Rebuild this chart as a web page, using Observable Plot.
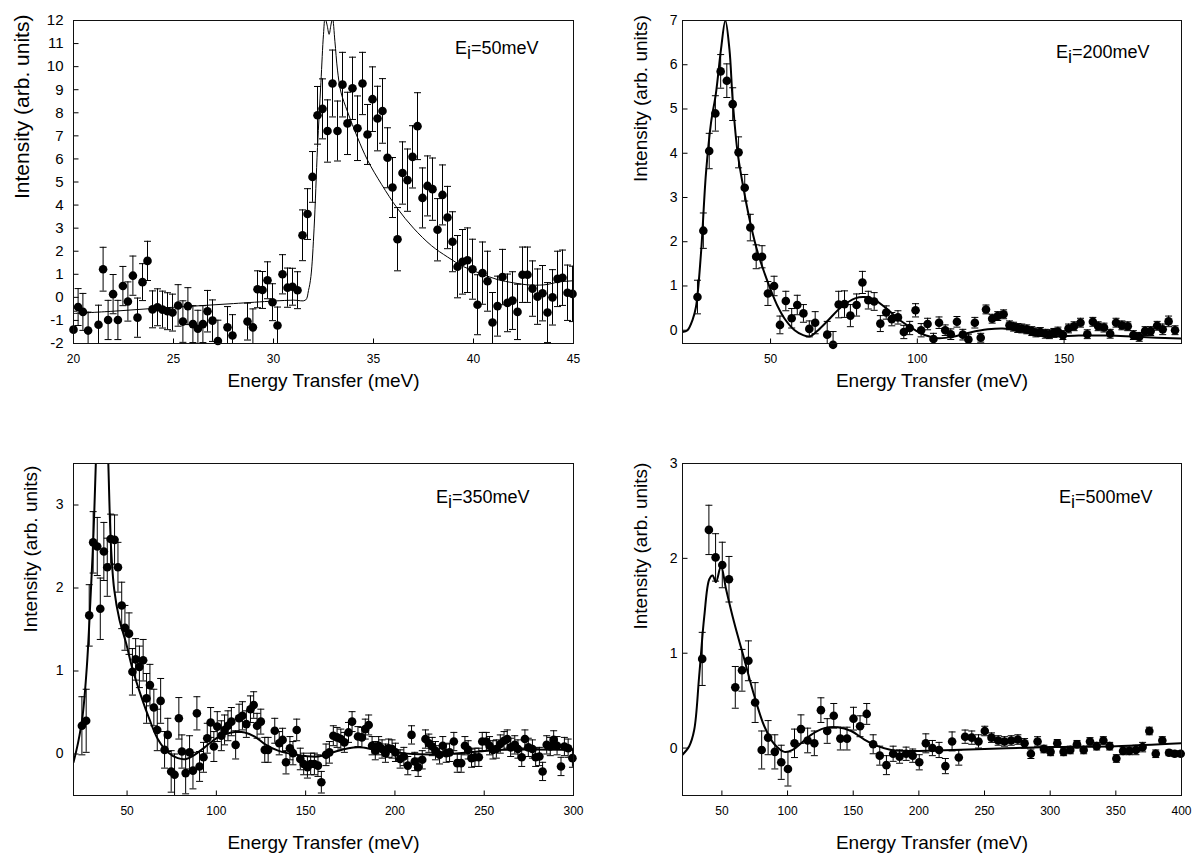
<!DOCTYPE html>
<html><head><meta charset="utf-8">
<script src="https://cdn.jsdelivr.net/npm/d3@7"></script>
<script src="https://cdn.jsdelivr.net/npm/@observablehq/plot@0.6"></script>
<style>
html,body{margin:0;padding:0;background:#fff;}
#wrap{position:relative;width:1195px;height:857px;overflow:hidden;background:#fff;font-family:"Liberation Sans",Arial,sans-serif;}
#wrap > div{position:absolute;}
</style></head><body><div id="wrap"></div>
<script>
// ---------- Panel 1 : Ei = 50 meV ----------
const p1E = [20.0,20.23,20.47,20.73,21.25,21.48,21.73,21.98,22.22,22.47,22.72,22.97,23.2,23.45,23.7,23.95,24.2,24.45,24.7,24.95,25.23,25.47,25.72,25.97,26.22,26.47,26.7,26.95,27.22,27.7,27.95,28.7,28.97,29.2,29.45,29.7,29.95,30.2,30.45,30.7,30.95,31.2,31.45,31.7,31.95,32.2,32.45,32.7,32.95,33.2,33.45,33.7,33.95,34.2,34.45,34.7,34.95,35.2,35.45,35.7,35.95,36.2,36.45,36.7,36.95,37.2,37.45,37.7,37.95,38.2,38.45,38.7,38.95,39.2,39.45,39.7,39.95,40.2,40.45,40.7,40.95,41.2,41.45,41.7,41.95,42.2,42.45,42.7,42.95,43.2,43.45,43.7,43.95,44.2,44.45,44.7,44.95];
const p1I = [-1.40,-0.42,-0.63,-1.44,-1.19,1.22,-0.98,0.14,-0.98,0.49,-0.18,0.94,-0.88,0.66,1.58,-0.52,-0.43,-0.53,-0.60,-0.66,-0.35,-1.05,-0.38,-1.16,-1.36,-1.16,-0.60,-1.01,-1.89,-1.30,-1.65,-1.05,-1.30,0.35,0.32,0.74,-0.21,-1.22,1.00,0.42,0.46,0.31,2.69,3.61,5.22,7.89,8.17,7.21,9.27,7.21,9.22,7.54,9.06,7.33,9.27,7.06,8.59,7.75,8.08,6.05,4.76,2.52,5.39,5.08,6.09,7.42,4.31,4.83,4.69,2.93,4.44,3.46,2.41,1.33,1.54,1.61,1.22,-0.32,1.05,0.70,-1.09,-0.38,0.88,-0.24,-0.14,-0.63,0.98,0.98,0.38,0.03,0.18,-0.66,0.00,0.80,0.85,0.20,0.15];
const p1Err = [0.8,0.8,0.8,0.8,0.85,0.95,0.85,0.85,0.85,0.85,0.85,0.85,0.85,0.8,0.85,0.8,0.8,0.8,0.8,0.8,0.9,0.9,0.8,0.8,0.8,0.8,0.9,0.9,0.9,0.9,0.9,0.8,0.8,0.8,0.8,0.8,0.8,0.8,0.85,0.85,0.8,0.8,1.1,1.1,1.1,1.25,1.3,1.35,1.45,1.3,1.4,1.35,1.35,1.4,1.35,1.3,1.4,1.4,1.4,1.3,1.3,1.37,1.35,1.35,1.35,1.45,1.3,1.3,1.35,1.35,1.3,1.35,1.3,1.35,1.4,1.4,1.3,1.3,1.35,1.3,1.3,1.3,1.2,1.25,1.25,1.2,1.2,1.2,1.2,1.2,1.2,1.3,1.2,1.2,1.2,1.2,1.2];
const f1E = [20,22,24,26,28,30,31,31.6,31.75,31.87,32.03,32.2,32.37,32.5,32.58,32.68,32.78,32.87,32.95,33.07,33.2,33.37,33.7,34.2,34.7,35.4,36.2,37.0,37.9,38.7,39.5,40.4,41.2,42.0,42.9,43.7,44.2,45];
const f1I = [-0.70,-0.60,-0.48,-0.38,-0.27,-0.16,-0.12,-0.12,0.3,0.9,3.0,6.5,9.3,11.4,12.1,11.8,11.4,11.8,12.1,11.1,9.85,8.9,8.05,6.93,5.95,4.9,3.85,3.0,2.24,1.75,1.33,1.02,0.77,0.63,0.53,0.56,0.66,0.72];
const p1XTicks = [20,25,30,35,40,45];
const p1YTicks = [-2,-1,0,1,2,3,4,5,6,7,8,9,10,11,12];

// ---------- Panel 2 : Ei = 200 meV ----------
const p2E = [25.1,27.1,29.1,31.2,33.0,35.1,37.1,39.1,41.2,43.1,45.1,47.1,49.1,51.2,53.2,55.2,57.2,59.1,61.2,63.2,65.2,69.3,71.3,73.2,75.2,77.2,79.3,81.3,83.3,85.3,87.4,89.4,91.3,93.4,95.4,97.4,99.4,101.3,103.5,105.5,107.4,109.5,111.4,113.5,115.5,117.4,119.6,121.6,123.4,125.5,127.4,129.4,131.4,132.8,134.2,135.6,137.3,139.0,140.4,141.9,143.6,145.0,146.5,147.9,149.6,151.5,153.4,155.6,157.9,159.8,161.6,163.6,165.7,167.7,169.7,171.7,173.6,175.6,177.6,179.5,181.7,183.6,185.6,187.8];
const p2I = [0.75,2.25,4.05,4.90,5.85,5.64,5.11,4.02,3.22,2.32,1.66,1.66,0.83,1.00,0.12,0.66,0.27,0.57,0.38,0.03,0.17,-0.10,-0.33,0.58,0.59,0.33,0.57,1.08,0.68,0.65,0.15,0.40,0.25,0.29,-0.04,0.05,0.45,0.00,0.14,-0.20,0.17,0.00,-0.09,0.19,-0.10,-0.21,0.17,-0.17,0.47,0.26,0.32,0.36,0.11,0.08,0.05,0.04,0.02,-0.02,-0.05,-0.04,-0.08,-0.09,-0.06,-0.03,-0.11,0.04,0.09,0.17,-0.09,0.19,0.09,0.06,-0.08,0.17,0.11,0.09,-0.11,-0.15,-0.02,-0.02,0.10,0.02,0.20,0.00];
const p2Err = [0.38,0.4,0.4,0.4,0.38,0.38,0.37,0.35,0.3,0.3,0.27,0.25,0.27,0.22,0.2,0.22,0.22,0.22,0.2,0.18,0.25,0.3,0.3,0.3,0.3,0.25,0.25,0.25,0.2,0.2,0.18,0.15,0.15,0.15,0.15,0.15,0.15,0.15,0.13,0.13,0.13,0.12,0.12,0.12,0.12,0.12,0.12,0.1,0.1,0.1,0.1,0.1,0.1,0.1,0.1,0.1,0.1,0.1,0.1,0.1,0.1,0.1,0.1,0.1,0.1,0.1,0.1,0.1,0.1,0.1,0.1,0.1,0.1,0.1,0.1,0.1,0.1,0.1,0.1,0.1,0.1,0.12,0.12,0.1];
const f2E = [20,21.7,23.4,24.6,26.3,28.0,29.7,31.4,33.1,34.6,36.0,37.1,38.8,41.1,43.4,45.7,48.0,50.3,52.5,54.8,58.2,61.1,63.4,66.2,69.7,74.2,78.8,82.2,85.6,90.2,94.8,99.3,103,107,112,118,124,129,134,140,146,155,165,175,190];
const f2I = [-0.04,0.0,0.23,0.53,1.74,3.55,4.68,5.36,6.34,7.0,6.34,5.2,4.0,3.09,2.34,1.74,1.28,0.87,0.53,0.26,0.0,-0.11,-0.14,0.0,0.23,0.53,0.72,0.75,0.68,0.45,0.19,0.0,-0.12,-0.18,-0.15,-0.05,0.02,0.04,0.0,-0.1,-0.14,-0.12,-0.12,-0.15,-0.19];
const p2XTicks = [50,100,150];
const p2YTicks = [0,1,2,3,4,5,6,7];

// ---------- Panel 3 : Ei = 350 meV ----------
const p3E = [24.7,27.1,28.8,31.0,33.3,35.0,37.0,38.9,40.8,43.0,44.9,47.0,48.8,51.1,53.0,54.8,56.9,59.0,60.9,62.8,65.0,66.9,68.8,71.0,72.8,74.7,76.6,79.0,80.7,82.8,85.0,86.9,89.1,90.6,92.8,94.9,96.8,98.6,100.5,102.8,104.6,106.5,108.4,110.8,112.7,114.6,116.8,119.1,120.9,122.8,124.9,127.1,129.0,132.7,135.2,137.1,139.0,141.2,142.9,145.0,147.0,148.9,151.0,152.8,154.9,156.9,158.8,161.4,163.3,165.5,167.6,169.7,171.7,174.0,176.0,179.3,181.5,183.4,185.3,187.2,189.0,190.9,192.8,194.7,196.5,198.4,200.3,202.9,205.0,207.2,209.3,211.1,213.0,215.3,217.1,219.0,220.9,222.7,225.0,226.8,228.7,230.6,233.0,234.9,237.1,239.2,241.0,242.9,244.8,247.0,248.9,251.2,253.0,254.9,256.8,259.0,261.1,262.9,264.8,267.1,268.9,271.0,272.8,274.7,277.0,278.8,280.9,282.7,285.0,287.0,288.9,290.8,293.0,294.9,297.0,299.4];
const p3I = [0.34,0.40,1.67,2.55,2.50,1.75,2.44,2.25,2.59,2.58,2.25,1.79,1.52,1.45,0.99,1.14,1.05,1.13,0.67,0.83,0.56,0.29,0.64,0.05,0.23,-0.21,-0.25,0.43,0.03,-0.23,0.02,-0.20,0.49,-0.15,-0.04,0.19,0.38,0.09,0.33,0.22,0.29,0.34,0.39,0.11,0.43,0.46,0.36,0.54,0.59,0.34,0.39,0.05,0.05,0.28,0.13,0.17,-0.10,0.07,0.01,0.29,-0.06,-0.12,-0.16,-0.12,-0.12,-0.14,-0.34,-0.01,0.02,0.22,0.20,0.18,0.14,0.26,0.39,0.21,0.20,0.30,0.35,0.10,0.04,0.10,0.06,0.01,0.07,0.06,0.02,-0.06,-0.03,-0.14,0.23,-0.09,-0.16,-0.07,0.18,0.13,0.09,0.04,-0.01,0.10,0.01,0.02,0.15,-0.11,-0.11,0.10,0.05,-0.05,-0.04,-0.04,0.15,0.15,0.10,0.05,0.06,0.12,0.16,0.18,0.08,0.11,0.06,-0.04,0.18,0.08,0.06,-0.04,-0.03,-0.21,0.11,0.09,0.17,0.10,-0.15,0.09,0.07,-0.05];
const p3Err = [0.35,0.38,0.37,0.37,0.35,0.37,0.35,0.35,0.3,0.3,0.3,0.28,0.27,0.25,0.28,0.25,0.25,0.25,0.3,0.25,0.22,0.25,0.27,0.22,0.2,0.25,0.25,0.25,0.2,0.25,0.2,0.22,0.2,0.18,0.18,0.18,0.18,0.18,0.18,0.18,0.18,0.18,0.17,0.17,0.17,0.17,0.16,0.16,0.16,0.15,0.15,0.15,0.15,0.15,0.14,0.14,0.14,0.14,0.14,0.13,0.13,0.13,0.13,0.13,0.13,0.13,0.13,0.13,0.13,0.12,0.12,0.12,0.12,0.12,0.12,0.12,0.12,0.12,0.12,0.11,0.11,0.11,0.11,0.11,0.11,0.11,0.11,0.11,0.11,0.11,0.11,0.11,0.11,0.11,0.11,0.11,0.11,0.11,0.11,0.11,0.11,0.11,0.11,0.11,0.11,0.11,0.11,0.11,0.11,0.11,0.11,0.11,0.11,0.11,0.11,0.11,0.11,0.11,0.11,0.11,0.11,0.11,0.11,0.11,0.11,0.11,0.11,0.11,0.11,0.11,0.11,0.11,0.11,0.11,0.11,0.11];
const f3E = [20,22.6,25.1,27.5,29.4,31.2,32.5,34,36,38,39.5,41.0,42.8,45.7,49.4,53.1,57.8,62.5,67.2,72.8,78.4,83.1,87.8,93.4,100.9,108.4,115.9,121.5,127.1,134.6,145,157,165,174,180,190,210,230,260,300];
const f3I = [-0.1,0.14,0.46,1.06,1.82,2.66,3.5,4.6,5.2,4.6,3.5,2.5,1.98,1.62,1.34,1.02,0.7,0.42,0.18,0.02,-0.05,-0.06,-0.01,0.08,0.2,0.26,0.26,0.21,0.12,0.04,-0.01,-0.03,0.02,0.07,0.08,0.05,0.0,0.0,0.05,0.05];
const p3XTicks = [50,100,150,200,250,300];
const p3YTicks = [0,1,2,3];

// ---------- Panel 4 : Ei = 500 meV ----------
const p4E = [35.0,40.1,45.2,50.3,55.4,60.2,65.3,70.2,75.3,80.3,85.2,90.3,95.2,100.3,105.3,110.2,115.3,120.4,125.4,130.2,135.2,140.2,145.3,150.2,155.2,160.3,165.2,170.2,175.3,180.4,185.3,190.3,195.3,200.3,205.3,210.3,215.4,220.2,225.3,230.4,235.2,240.3,245.4,250.2,255.3,260.4,265.2,270.3,275.4,280.5,285.3,290.4,295.2,300.3,305.4,310.2,315.3,320.4,325.5,330.3,335.4,340.5,345.3,350.4,355.5,360.3,365.3,370.4,375.5,380.4,385.4,390.5,394.8,399.4];
const p4I = [0.94,2.30,2.01,1.93,1.78,0.64,0.82,0.92,0.48,-0.02,0.11,-0.04,-0.15,-0.22,0.05,0.20,0.08,0.05,0.40,0.18,0.34,0.10,0.10,0.31,0.23,0.36,0.04,-0.08,-0.18,-0.06,-0.09,-0.06,-0.08,-0.15,0.05,0.00,-0.02,-0.19,0.07,-0.10,0.12,0.11,0.07,0.18,0.11,0.08,0.07,0.08,0.09,0.05,-0.06,0.07,-0.01,-0.04,0.05,-0.04,-0.02,0.04,-0.02,0.07,0.02,0.08,0.02,-0.11,-0.03,-0.03,-0.02,0.01,0.18,-0.06,0.08,-0.05,-0.06,-0.06];
const p4Err = [0.28,0.26,0.25,0.24,0.24,0.22,0.22,0.21,0.21,0.2,0.18,0.18,0.18,0.18,0.15,0.15,0.13,0.13,0.13,0.13,0.13,0.12,0.12,0.12,0.11,0.11,0.1,0.1,0.1,0.08,0.07,0.07,0.07,0.08,0.1,0.08,0.08,0.08,0.1,0.08,0.07,0.07,0.07,0.05,0.05,0.05,0.05,0.05,0.05,0.05,0.05,0.05,0.04,0.04,0.04,0.04,0.04,0.04,0.04,0.04,0.04,0.04,0.04,0.04,0.04,0.04,0.05,0.05,0.04,0.04,0.04,0.03,0.03,0.03];
const f4E = [20,25.1,28.9,32.7,36.6,40.4,42.9,45.5,49.3,53.1,59.4,67.0,74.7,82.3,90.0,97.6,103.9,110.3,117.9,128.1,138.2,148.4,158.5,168.7,178.9,189.0,200,250,300,350,400];
const f4I = [-0.07,0.02,0.19,0.76,1.39,1.78,1.82,1.75,1.92,1.68,1.32,0.94,0.55,0.23,0.04,-0.04,-0.02,0.05,0.14,0.21,0.22,0.18,0.09,0.02,-0.02,-0.03,-0.03,-0.01,0.01,0.02,0.05];
const p4XTicks = [50,100,150,200,250,300,350,400];
const p4YTicks = [0,1,2,3];

const eiLabels = ["Ei=50meV","Ei=200meV","Ei=350meV","Ei=500meV"];
const xLabel = "Energy Transfer (meV)";
const yLabel = "Intensity (arb. units)";

// ---------- drawing ----------
const ns = "http://www.w3.org/2000/svg";
const capSymbol = {draw(ctx, size){ const w = Math.sqrt(size/Math.PI); ctx.moveTo(-w,0); ctx.lineTo(w,0); }};
const tickUp = {draw(ctx, size){ const w = Math.sqrt(size/Math.PI); ctx.moveTo(0,0); ctx.lineTo(0,-w); }};
const tickRight = {draw(ctx, size){ const w = Math.sqrt(size/Math.PI); ctx.moveTo(0,0); ctx.lineTo(w,0); }};

const panels = [
  {E:p1E,I:p1I,err:p1Err,fE:f1E,fI:f1I,xd:[20,45],yd:[-2,12],xt:p1XTicks,yt:p1YTicks,lab:eiLabels[0],
   left:0,top:0,width:597,height:414,ml:73,mr:24,mt:20,mb:71,ypad:10,yfs:15,lw:1,xlDy:43,ylDx:-51,ylDy:17,ylFs:21,eDx:-35,eDy:28},
  {E:p2E,I:p2I,err:p2Err,fE:f2E,fI:f2I,xd:[20,190],yd:[-0.3,7],xt:p2XTicks,yt:p2YTicks,lab:eiLabels[1],
   left:609,top:0,width:586,height:414,ml:73,mr:14,mt:20,mb:71,ypad:5,yfs:14,lw:2,xlDy:43,ylDx:-42,ylDy:0,ylFs:19,eDx:-32,eDy:32},
  {E:p3E,I:p3I,err:p3Err,fE:f3E,fI:f3I,xd:[20,300],yd:[-0.5,3.5],xt:p3XTicks,yt:p3YTicks,lab:eiLabels[2],
   left:0,top:443,width:597,height:414,ml:73,mr:24,mt:20,mb:62,ypad:10,yfs:14,lw:2,xlDy:53,ylDx:-43,ylDy:3,ylFs:19,eDx:-44,eDy:34},
  {E:p4E,I:p4I,err:p4Err,fE:f4E,fI:f4I,xd:[20,400],yd:[-0.5,3],xt:p4XTicks,yt:p4YTicks,lab:eiLabels[3],
   left:609,top:443,width:586,height:414,ml:73,mr:14,mt:20,mb:62,ypad:5,yfs:14,lw:2,xlDy:53,ylDx:-42,ylDy:0,ylFs:19,eDx:-29,eDy:34}
];

const wrap = document.getElementById("wrap");
for (const p of panels) {
  const pts = p.E.map((e,i)=>({x:e, y:p.I[i], lo:p.I[i]-p.err[i], hi:p.I[i]+p.err[i]}));
  const fit = p.fE.map((e,i)=>({x:e, y:p.fI[i]}));
  const svg = Plot.plot({
    width:p.width, height:p.height,
    marginLeft:p.ml, marginRight:p.mr, marginTop:p.mt, marginBottom:p.mb,
    style:{fontFamily:'"Liberation Sans", Arial, sans-serif', fontSize:"12px", color:"#000", background:"#fff", overflow:"visible"},
    x:{domain:p.xd},
    y:{domain:p.yd},
    marks:[
      Plot.axisX({ticks:p.xt, tickSize:0, tickPadding:11, fontSize:12, label:null, tickFormat:d=>String(d)}),
      Plot.axisY({ticks:p.yt, tickSize:0, tickPadding:p.ypad, fontSize:p.yfs, label:null, tickFormat:d=>String(d)}),
      // inward tick marks
      Plot.dot(p.xt, {x:d=>d, y:()=>p.yd[0], symbol:tickUp, r:5, stroke:"#000", fill:"none", strokeWidth:1}),
      Plot.dot(p.yt, {x:()=>p.xd[0], y:d=>d, symbol:tickRight, r:5, stroke:"#000", fill:"none", strokeWidth:1}),
      Plot.ruleX(pts, {x:"x", y1:"lo", y2:"hi", stroke:"#000", strokeWidth:1, clip:true}),
      Plot.dot(pts, {x:"x", y:"hi", symbol:capSymbol, r:3.5, stroke:"#000", fill:"none", strokeWidth:1, clip:true}),
      Plot.dot(pts, {x:"x", y:"lo", symbol:capSymbol, r:3.5, stroke:"#000", fill:"none", strokeWidth:1, clip:true}),
      Plot.line(fit, {x:"x", y:"y", curve:"catmull-rom", stroke:"#000", strokeWidth:p.lw, clip:true}),
      Plot.dot(pts, {x:"x", y:"y", r:4.3, fill:"#000", stroke:"none"}),
      Plot.frame({stroke:"#111", strokeWidth:1}),
      Plot.text([p.lab], {frameAnchor:"top-right", textAnchor:"end", lineAnchor:"middle", dx:p.eDx, dy:p.eDy, fontSize:18, fill:"#000"}),
      Plot.text([xLabel], {frameAnchor:"bottom", dy:p.xlDy, fontSize:19, fill:"#000"}),
      Plot.text([yLabel], {frameAnchor:"left", rotate:-90, dx:p.ylDx, dy:p.ylDy, fontSize:p.ylFs, fill:"#000"})
    ]
  });
  // subscript i in "Ei=..."
  svg.querySelectorAll("text").forEach(t => {
    const s = t.textContent;
    if (s === p.lab) {
      t.textContent = "";
      t.appendChild(document.createTextNode("E"));
      const sub = document.createElementNS(ns, "tspan");
      sub.setAttribute("dy", "5"); sub.textContent = "i";
      const rest = document.createElementNS(ns, "tspan");
      rest.setAttribute("dy", "-5"); rest.textContent = s.slice(2);
      t.appendChild(sub); t.appendChild(rest);
    }
  });
  const div = document.createElement("div");
  div.style.left = p.left + "px"; div.style.top = p.top + "px";
  div.appendChild(svg);
  wrap.appendChild(div);
}
</script></body></html>
